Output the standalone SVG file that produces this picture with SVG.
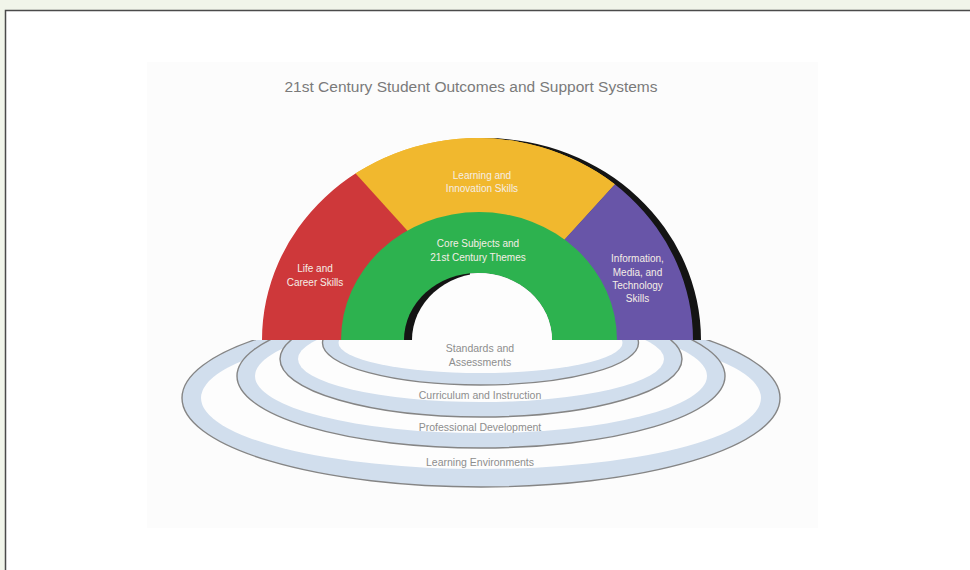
<svg xmlns="http://www.w3.org/2000/svg" width="970" height="570" viewBox="0 0 970 570">
<defs>
<style>
.lbl{font-family:"Liberation Sans",Arial,sans-serif;font-size:10px;fill:#f5eee6;text-anchor:middle}
.rl{font-family:"Liberation Sans",Arial,sans-serif;font-size:10.5px;fill:#8d8d8d;text-anchor:middle}
.band{fill:#d1deed;stroke:#858585;stroke-width:1.4}
.gap{fill:#fdfdfd}
</style>
<clipPath id="below"><rect x="0" y="340" width="970" height="230"/></clipPath>
<clipPath id="outer"><path d="M262 340 A215.5 202 0 0 1 693 340 Z"/></clipPath>
<clipPath id="hole"><path d="M404 340 A74 67 0 0 1 552 340 Z"/></clipPath>
</defs>
<rect width="970" height="570" fill="#f1f5ea"/>
<rect x="5.5" y="10.5" width="1000" height="600" fill="#ffffff" stroke="#4a4a4a" stroke-width="1.5"/>
<rect x="147" y="62" width="671" height="466" fill="#fcfcfc"/>
<g id="title"><text x="471" y="92" font-family="'Liberation Sans',Arial,sans-serif" font-size="15.5" fill="#7a7a7a" text-anchor="middle">21st Century Student Outcomes and Support Systems</text></g>
<g id="support-rings" clip-path="url(#below)">
<g id="ring-learning-environments">
<ellipse class="band" cx="481" cy="398" rx="299" ry="89"/>
<ellipse class="gap" cx="481" cy="398" rx="280" ry="71"/>
</g>
<g id="ring-professional-development">
<ellipse class="band" cx="481" cy="376" rx="244" ry="72"/>
<ellipse class="gap" cx="481" cy="376" rx="226" ry="57"/>
</g>
<g id="ring-curriculum">
<ellipse class="band" cx="481" cy="359" rx="201" ry="58"/>
<ellipse class="gap" cx="481" cy="359" rx="183" ry="43"/>
</g>
<g id="ring-standards">
<ellipse class="band" cx="480.5" cy="343" rx="158" ry="42"/>
<ellipse class="gap" cx="480.5" cy="343" rx="142" ry="30"/>
</g>
</g>
<g id="ring-labels">
<text class="rl" x="480" y="351.5">Standards and</text>
<text class="rl" x="480" y="365.5">Assessments</text>
<text class="rl" x="480" y="398.5">Curriculum and Instruction</text>
<text class="rl" x="480" y="430.5">Professional Development</text>
<text class="rl" x="480" y="465.5">Learning Environments</text>
</g>
<g id="arch">
<path d="M270 340 A215.5 202 0 0 1 701 340 Z" fill="#141414"/>
<g clip-path="url(#outer)">
<g id="life-career"><polygon points="200,60 253,60 508,340 200,340" fill="#ce383a"/></g>
<g id="learning-innovation"><polygon points="253,60 728,60 473,340 508,340" fill="#f1b82e"/><polygon points="253,60 728,60 490,322" fill="#f1b82e"/></g>
<g id="info-media-tech"><polygon points="728,60 760,60 760,340 473,340" fill="#6855a8"/></g>
</g>
<g id="core-subjects"><path d="M341 340 A138 128 0 0 1 617 340 Z" fill="#2db24f"/></g>
<path d="M404 340 A74 67 0 0 1 552 340 Z" fill="#141414"/>
<g clip-path="url(#hole)"><path d="M412 340 A74 67 0 0 1 560 340 Z" fill="#fdfdfd"/><rect x="470" y="260" width="100" height="80" fill="#fdfdfd"/></g>
</g>
<g id="arch-labels">
<text class="lbl" x="482" y="178.5">Learning and</text>
<text class="lbl" x="482" y="191.5">Innovation Skills</text>
<text class="lbl" x="478" y="246.5">Core Subjects and</text>
<text class="lbl" x="478" y="260.5">21st Century Themes</text>
<text class="lbl" x="315" y="271.5">Life and</text>
<text class="lbl" x="315" y="285.5">Career Skills</text>
<text class="lbl" x="637.5" y="261.5">Information,</text>
<text class="lbl" x="637.5" y="275.5">Media, and</text>
<text class="lbl" x="637.5" y="288.5">Technology</text>
<text class="lbl" x="637.5" y="301.5">Skills</text>
</g>
</svg>
